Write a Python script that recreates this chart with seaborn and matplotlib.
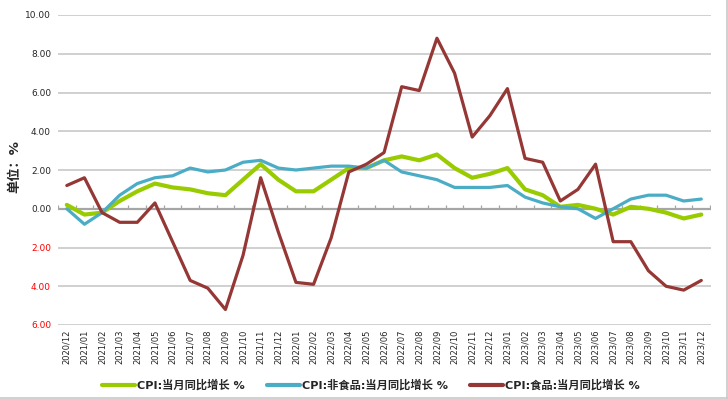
import numpy as np
import pandas as pd
import matplotlib
matplotlib.use("Agg")
import matplotlib.pyplot as plt
from matplotlib.lines import Line2D
import seaborn as sns

months = ["2020/12",
          "2021/01", "2021/02", "2021/03", "2021/04", "2021/05", "2021/06",
          "2021/07", "2021/08", "2021/09", "2021/10", "2021/11", "2021/12",
          "2022/01", "2022/02", "2022/03", "2022/04", "2022/05", "2022/06",
          "2022/07", "2022/08", "2022/09", "2022/10", "2022/11", "2022/12",
          "2023/01", "2023/02", "2023/03", "2023/04", "2023/05", "2023/06",
          "2023/07", "2023/08", "2023/09", "2023/10", "2023/11", "2023/12"]

cpi = [0.2, -0.3, -0.2, 0.4, 0.9, 1.3, 1.1, 1.0, 0.8, 0.7, 1.5, 2.3, 1.5,
       0.9, 0.9, 1.5, 2.1, 2.1, 2.5, 2.7, 2.5, 2.8, 2.1, 1.6, 1.8,
       2.1, 1.0, 0.7, 0.1, 0.2, 0.0, -0.3, 0.1, 0.0, -0.2, -0.5, -0.3]

nonfood = [0.0, -0.8, -0.2, 0.7, 1.3, 1.6, 1.7, 2.1, 1.9, 2.0, 2.4, 2.5, 2.1,
           2.0, 2.1, 2.2, 2.2, 2.1, 2.5, 1.9, 1.7, 1.5, 1.1, 1.1, 1.1,
           1.2, 0.6, 0.3, 0.1, 0.0, -0.5, 0.0, 0.5, 0.7, 0.7, 0.4, 0.5]

food = [1.2, 1.6, -0.2, -0.7, -0.7, 0.3, -1.7, -3.7, -4.1, -5.2, -2.4, 1.6, -1.2,
        -3.8, -3.9, -1.5, 1.9, 2.3, 2.9, 6.3, 6.1, 8.8, 7.0, 3.7, 4.8,
        6.2, 2.6, 2.4, 0.4, 1.0, 2.3, -1.7, -1.7, -3.2, -4.0, -4.2, -3.7]

names = ["CPI:当月同比增长 %", "CPI:非食品:当月同比增长 %", "CPI:食品:当月同比增长 %"]
colors = ["#99CC00", "#4BACC6", "#953735"]
widths = [3.0, 2.3, 2.3]

df = pd.DataFrame({
    "month": months * 3,
    "value": cpi + nonfood + food,
    "series": [names[0]] * len(months) + [names[1]] * len(months) + [names[2]] * len(months),
})

sns.set_style("white")
plt.rcParams["font.family"] = ["DejaVu Sans", "Noto Sans CJK SC"]

fig = plt.figure(figsize=(7.28, 3.99), dpi=100)
ax = fig.add_axes([58 / 728, 1 - 325 / 399, 653 / 728, 310 / 399])

for name, col, lw in zip(names, colors, widths):
    sub = df[df["series"] == name]
    sns.lineplot(data=sub, x="month", y="value", color=col, linewidth=lw,
                 legend=False, ax=ax, sort=False)

ax.set_ylim(-6, 10)
ax.set_xlim(-0.5, 36.55)
yt = np.arange(-6, 11, 2)
ax.set_yticks(yt)
ax.set_yticklabels([f"{abs(v):.2f}" for v in yt], fontsize=6.5)
for lab, v in zip(ax.get_yticklabels(), yt):
    if v < 0:
        lab.set_color("red")
ax.tick_params(axis="y", length=0, pad=5)
ax.set_xticks(range(len(months)))
ax.set_xticklabels(months, rotation=90, fontsize=6)
ax.tick_params(axis="x", length=0, pad=3)
ax.set_xlabel("")
ax.set_ylabel("")

for v in yt:
    if v != 0:
        ax.axhline(v, color="#C8C8C8", lw=1.2, zorder=0)
ax.axhline(0, color="#A6A6A6", lw=1.6, zorder=1)
ax.vlines(np.arange(-0.5, len(months)), 0, 0.17, color="#A6A6A6", lw=0.9, zorder=1)

for s in ax.spines.values():
    s.set_visible(False)

# legend keys are drawn a bit thicker than the plotted lines
handles = [Line2D([], [], color=c, lw=3.0) for c in colors]
fig.legend(handles, names, loc="center", bbox_to_anchor=(371 / 728, 1 - 385 / 399),
           ncol=3, frameon=False, handlelength=2.9, handletextpad=0.2,
           columnspacing=2.0, prop={"size": 8.1, "weight": "bold"})

fig.text(15 / 728, 1 - 167 / 399, "单位：%", rotation=90, ha="center", va="center",
         fontsize=9.5, fontweight="bold")

fig.add_artist(Line2D([0, 1], [1.5 / 399, 1.5 / 399], color="#C8C8C8", lw=1.2))
fig.add_artist(Line2D([727 / 728, 727 / 728], [1.5 / 399, 1], color="#C8C8C8", lw=1.2))

fig.savefig("out.png", dpi=100)
